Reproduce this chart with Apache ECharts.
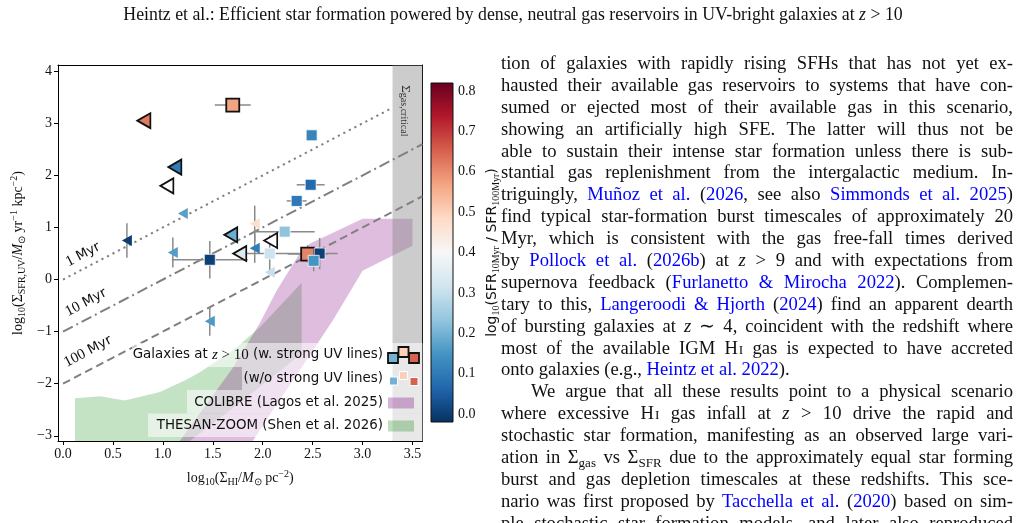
<!DOCTYPE html>
<html>
<head>
<meta charset="utf-8">
<script src="https://cdn.jsdelivr.net/npm/echarts@6/dist/echarts.min.js"></script>
<style>
html,body{margin:0;padding:0;background:#fff;}
body{width:1018px;height:523px;overflow:hidden;position:relative;font-family:"Liberation Serif",serif;color:#111;}
#chart{position:absolute;left:0;top:0;width:1018px;height:523px;}
#head{position:absolute;left:0;top:4px;width:1026px;text-align:center;font-size:17.8px;line-height:20px;white-space:nowrap;}
#txt{position:absolute;left:501px;top:52px;width:512px;font-size:18.6px;line-height:21.9px;}
#txt div{height:21.9px;white-space:nowrap;}
#txt div.ind{padding-left:30px;}
.l{color:#0000ff;}
sub{font-size:0.7em;line-height:0;vertical-align:-0.3em;}
.sc{font-size:0.72em;margin-left:1px;}
</style>
</head>
<body>
<div id="chart"></div>
<div id="head">Heintz et al.: Efficient star formation powered by dense, neutral gas reservoirs in UV-bright galaxies at <i>z</i> &gt; 10</div>
<div id="txt">
<div class="j">tion of galaxies with rapidly rising SFHs that has not yet ex-</div>
<div class="j">hausted their available gas reservoirs to systems that have con-</div>
<div class="j">sumed or ejected most of their available gas in this scenario,</div>
<div class="j">showing an artificially high SFE. The latter will thus not be</div>
<div class="j">able to sustain their intense star formation unless there is sub-</div>
<div class="j">stantial gas replenishment from the intergalactic medium. In-</div>
<div class="j">triguingly, <span class="l">Muñoz et al.</span> (<span class="l">2026</span>, see also <span class="l">Simmonds et al. 2025</span>)</div>
<div class="j">find typical star-formation burst timescales of approximately 20</div>
<div class="j">Myr, which is consistent with the gas free-fall times derived</div>
<div class="j">by <span class="l">Pollock et al.</span> (<span class="l">2026b</span>) at <i>z</i> &gt; 9 and with expectations from</div>
<div class="j">supernova feedback (<span class="l">Furlanetto &amp; Mirocha 2022</span>). Complemen-</div>
<div class="j">tary to this, <span class="l">Langeroodi &amp; Hjorth</span> (<span class="l">2024</span>) find an apparent dearth</div>
<div class="j">of bursting galaxies at <i>z</i> ∼ 4, coincident with the redshift where</div>
<div class="j">most of the available IGM H<span class="sc">I</span> gas is expected to have accreted</div>
<div>onto galaxies (e.g., <span class="l">Heintz et al. 2022</span>).</div>
<div class="j ind">We argue that all these results point to a physical scenario</div>
<div class="j">where excessive H<span class="sc">I</span> gas infall at <i>z</i> &gt; 10 drive the rapid and</div>
<div class="j">stochastic star formation, manifesting as an observed large vari-</div>
<div class="j">ation in Σ<sub>gas</sub> vs Σ<sub>SFR</sub> due to the approximately equal star forming</div>
<div class="j">burst and gas depletion timescales at these redshifts. This sce-</div>
<div class="j">nario was first proposed by <span class="l">Tacchella et al.</span> (<span class="l">2020</span>) based on sim-</div>
<div class="j">ple stochastic star formation models, and later also reproduced</div>
</div>
<script>
// justify each printed line to the column width
document.querySelectorAll('#txt div.j').forEach(function (d) {
    var r = document.createRange();
    r.selectNodeContents(d);
    var w = r.getBoundingClientRect().width;
    var avail = d.clientWidth - (d.classList.contains('ind') ? 30 : 0);
    var n = (d.textContent.match(/ /g) || []).length;
    if (n) d.style.wordSpacing = ((avail - w) / n) + 'px';
});

// axis ticks
var xTicks = [0, 0.5, 1, 1.5, 2, 2.5, 3, 3.5];
var yTicks = [-3, -2, -1, 0, 1, 2, 3, 4];
var cbTicks = [0, 0.1, 0.2, 0.3, 0.4, 0.5, 0.6, 0.7, 0.8];
var cbRange = [-0.02, 0.82];

// galaxies with strong UV lines (big squares, black edge)
var strongX = [1.70, 2.45];
var strongY = [3.35, 0.49];
var strongC = [0.57, 0.61];
var strongXerr = [0.18, 0.20];
var strongYerr = [0.03, 0.17];

// galaxies w/o strong UV lines (small squares)
var weakX = [2.49, 2.48, 2.34, 2.22, 2.07, 1.47, 2.57, 2.51];
var weakY = [2.77, 1.82, 1.51, 0.92, 0.50, 0.38, 0.50, 0.36];
var weakC = [0.12, 0.07, 0.10, 0.23, 0.31, 0.005, 0.005, 0.15];
var weakXerr = [0.05, 0.14, 0.10, 0.30, 0.30, 0.38, 0.18, 0.05];
var weakYerr = [0.05, 0.03, 0.03, 0.0, 0.35, 0.36, 0.30, 0.20];

// upper limits, big triangles with colour
var bigTriX = [0.81, 1.12, 1.68, 1.77];
var bigTriY = [3.05, 2.16, 0.86, 0.50];
var bigTriC = [0.62, 0.106, 0.19, 0.34];
var bigTriYerr = [0.07, 0, 0, 0];

// upper limits, open triangles (no SFR ratio)
var openTriX = [1.04, 2.08];
var openTriY = [1.80, 0.75];

// upper limits, small triangles
var smallTriX = [1.20, 0.64, 1.10, 1.92, 1.92, 2.07, 1.47];
var smallTriY = [1.27, 0.75, 0.52, 1.07, 0.60, 0.14, -0.80];
var smallTriC = [0.17, 0.0, 0.165, 0.47, 0.106, 0.30, 0.16];
var smallTriYerr = [0, 0.33, 0.29, 0.35, 0.28, 0, 0.28];

// depletion time lines
var myr1Line = [[0, 0], [3.28, 3.28]];
var myr10Line = [[0, -1], [3.6, 2.6]];
var myr100Line = [[0, -2], [3.6, 1.6]];
var lineLabels = ['1', '10', '100'];
var lineLabelX = [0.20, 0.23, 0.25];
var lineLabelY = [0.48, -0.44, -1.38];

// simulations
var colibrePoly = [[1.17, -3.10], [1.70, -1.70], [1.97, -0.84], [2.14, -0.21], [2.37, 0.50], [2.47, 0.69], [3.00, 1.17], [3.50, 1.17], [3.50, 0.65], [3.00, 0.17], [2.70, -0.79], [2.37, -1.74], [2.10, -2.51], [1.90, -3.10]];
var thesanPoly = [[0.12, -2.28], [0.37, -2.24], [0.62, -2.32], [0.97, -2.16], [1.24, -1.92], [1.37, -1.78], [1.70, -1.36], [1.97, -0.92], [2.39, -0.06], [2.39, -1.42], [1.80, -2.32], [1.27, -3.10], [0.12, -3.10]];
var criticalBand = [3.3, 3.6];

var rdbuR = ['#053061', '#2166ac', '#4393c3', '#92c5de', '#d1e5f0', '#f7f7f7', '#fddbc7', '#f4a582', '#d6604d', '#b2182b', '#67001f'];

function hex2rgb(h) {
    return [parseInt(h.substr(1, 2), 16), parseInt(h.substr(3, 2), 16), parseInt(h.substr(5, 2), 16)];
}
function cmap(v) {
    var t = (v - cbRange[0]) / (cbRange[1] - cbRange[0]);
    t = Math.max(0, Math.min(1, t)) * 10;
    var i = Math.min(9, Math.floor(t)), f = t - i;
    var a = hex2rgb(rdbuR[i]), b = hex2rgb(rdbuR[i + 1]);
    var c = a.map(function (x, k) { return Math.round(x + (b[k] - x) * f); });
    return 'rgb(' + c.join(',') + ')';
}

function errRows(xs, ys, xe, ye) {
    return xs.map(function (x, i) {
        var ex = xe ? xe[i] : 0, ey = ye ? ye[i] : 0;
        ex = Array.isArray(ex) ? ex : [ex, ex];
        ey = Array.isArray(ey) ? ey : [ey, ey];
        return [x, ys[i], ex[0], ex[1], ey[0], ey[1]];
    });
}
var errData = [].concat(
    errRows(strongX, strongY, strongXerr, strongYerr),
    errRows(weakX, weakY, weakXerr, weakYerr),
    errRows(bigTriX, bigTriY, null, bigTriYerr),
    errRows(smallTriX, smallTriY, null, smallTriYerr)
);

function zip3(a, b, c) {
    return a.map(function (x, i) { return [x, b[i], c ? c[i] : null]; });
}

var serifFont = '"Liberation Serif", serif';
var sansFont = '"DejaVu Sans", sans-serif';
var subStyle = { fontFamily: serifFont, fontSize: 10, lineHeight: 10, verticalAlign: 'bottom', color: '#111' };
var supStyle = { fontFamily: serifFont, fontSize: 10, lineHeight: 10, verticalAlign: 'top', color: '#111' };
var itStyle = { fontFamily: serifFont, fontStyle: 'italic', fontSize: 14, color: '#111' };

var chart = echarts.init(document.getElementById('chart'));

var polySeries = function (pts, color, z) {
    return {
        type: 'custom', xAxisIndex: 0, yAxisIndex: 0, z: z, silent: true, clip: true,
        data: [0],
        renderItem: function (params, api) {
            return {
                type: 'polygon',
                shape: { points: pts.map(function (p) { return api.coord(p); }) },
                style: { fill: color }
            };
        }
    };
};

var lineSeries = function (d, dash) {
    return {
        type: 'line', xAxisIndex: 0, yAxisIndex: 0, z: 4, silent: true,
        data: d, symbol: 'none',
        lineStyle: { color: '#808080', width: 2, type: dash }
    };
};

// legend, pixel layout
var legendRows = [355, 379, 402.5, 426];
var legendText = '#111';
var graphicEls = [
    { type: 'rect', z: 20, shape: { x: 132, y: 343, width: 290.5, height: 24 }, style: { fill: 'rgba(255,255,255,0.55)' } },
    { type: 'rect', z: 20, shape: { x: 242, y: 367, width: 180.5, height: 23 }, style: { fill: 'rgba(255,255,255,0.55)' } },
    { type: 'rect', z: 20, shape: { x: 187, y: 390, width: 235.5, height: 23.5 }, style: { fill: 'rgba(255,255,255,0.55)' } },
    { type: 'rect', z: 20, shape: { x: 148, y: 413.5, width: 274.5, height: 23.5 }, style: { fill: 'rgba(255,255,255,0.55)' } },
    { type: 'rect', z: 20, shape: { x: 385, y: 437, width: 37.5, height: 4 }, style: { fill: 'rgba(255,255,255,0.55)' } },
    { type: 'text', z: 21, x: 383, y: legendRows[0], style: {
        text: 'Galaxies at {mi|z}{mn| > 10} (w. strong UV lines)', align: 'right', verticalAlign: 'middle',
        fontFamily: sansFont, fontSize: 13.4, fill: legendText,
        rich: { mi: { fontFamily: serifFont, fontStyle: 'italic', fontSize: 15, fill: legendText }, mn: { fontFamily: serifFont, fontSize: 15, fill: legendText } } } },
    { type: 'text', z: 21, x: 383, y: legendRows[1], style: { text: '(w/o strong UV lines)', align: 'right', verticalAlign: 'middle', fontFamily: sansFont, fontSize: 13.4, fill: legendText } },
    { type: 'text', z: 21, x: 383, y: legendRows[2], style: { text: 'COLIBRE (Lagos et al. 2025)', align: 'right', verticalAlign: 'middle', fontFamily: sansFont, fontSize: 13.4, fill: legendText } },
    { type: 'text', z: 21, x: 383, y: legendRows[3], style: { text: 'THESAN-ZOOM (Shen et al. 2026)', align: 'right', verticalAlign: 'middle', fontFamily: sansFont, fontSize: 13.4, fill: legendText } },
    { type: 'rect', z: 22, shape: { x: 388, y: 353, width: 10, height: 10 }, style: { fill: cmap(0.2), stroke: '#111', lineWidth: 1.8 } },
    { type: 'rect', z: 22, shape: { x: 409, y: 353, width: 10, height: 10 }, style: { fill: cmap(0.65), stroke: '#111', lineWidth: 1.8 } },
    { type: 'rect', z: 23, shape: { x: 398.5, y: 347, width: 10, height: 10 }, style: { fill: cmap(0.5), stroke: '#111', lineWidth: 1.8 } },
    { type: 'rect', z: 22, shape: { x: 389.5, y: 377, width: 8, height: 8 }, style: { fill: cmap(0.2), stroke: '#fff', lineWidth: 1 } },
    { type: 'rect', z: 22, shape: { x: 410, y: 377.5, width: 8, height: 8 }, style: { fill: cmap(0.65), stroke: '#fff', lineWidth: 1 } },
    { type: 'rect', z: 23, shape: { x: 399.5, y: 371.5, width: 8, height: 8 }, style: { fill: cmap(0.5), stroke: '#fff', lineWidth: 1 } },
    { type: 'rect', z: 22, shape: { x: 388, y: 397.5, width: 26, height: 11 }, style: { fill: 'rgba(128,0,128,0.3)' } },
    { type: 'rect', z: 22, shape: { x: 388, y: 420.5, width: 26, height: 11 }, style: { fill: 'rgba(0,128,0,0.26)' } }
];

var option = {
    animation: false,
    backgroundColor: 'transparent',
    grid: [
        { left: 58, top: 65, width: 364.5, height: 376, containLabel: false, outerBoundsMode: 'none' },
        { left: 431, top: 83, width: 22, height: 339, containLabel: false, outerBoundsMode: 'none' }
    ],
    xAxis: [
        {
            type: 'value', gridIndex: 0, min: -0.05, max: 3.6,
            axisLine: { show: true, onZero: false, lineStyle: { color: '#000', width: 1 } },
            axisTick: { show: true, customValues: xTicks, length: 4, lineStyle: { color: '#000' } },
            axisLabel: { customValues: xTicks, formatter: function (v) { return v.toFixed(1); }, fontFamily: serifFont, fontSize: 14, color: '#111', margin: 6 },
            splitLine: { show: false },
            name: 'log{s|10}(Σ{s|HI}/{i|M}{s|⊙} pc{p|−2})',
            nameLocation: 'middle', nameGap: 28,
            nameTextStyle: { fontFamily: serifFont, fontSize: 14, color: '#111', lineHeight: 18, rich: { s: subStyle, p: supStyle, i: itStyle } }
        },
        {
            type: 'value', gridIndex: 0, min: -0.05, max: 3.6, position: 'top',
            axisLine: { show: true, onZero: false, lineStyle: { color: '#000', width: 1 } },
            axisTick: { show: false }, axisLabel: { show: false }, splitLine: { show: false }
        },
        { type: 'value', gridIndex: 1, min: 0, max: 1, show: false }
    ],
    yAxis: [
        {
            type: 'value', gridIndex: 0, min: -3.1, max: 4.12,
            axisLine: { show: true, onZero: false, lineStyle: { color: '#000', width: 1 } },
            axisTick: { show: true, customValues: yTicks, length: 4, lineStyle: { color: '#000' } },
            axisLabel: { customValues: yTicks, formatter: function (v) { return v < 0 ? '\u2212' + Math.abs(v) : String(v); }, fontFamily: serifFont, fontSize: 14, color: '#111', margin: 6 },
            splitLine: { show: false },
            name: 'log{s|10}(Σ{s|SFR,UV}/{i|M}{s|⊙} yr{p|−1} kpc{p|−2})',
            nameLocation: 'middle', nameRotate: 90, nameGap: 31,
            nameTextStyle: { fontFamily: serifFont, fontSize: 14, color: '#111', lineHeight: 18, rich: { s: subStyle, p: supStyle, i: itStyle } }
        },
        {
            type: 'value', gridIndex: 0, min: -3.1, max: 4.12, position: 'right',
            axisLine: { show: true, onZero: false, lineStyle: { color: '#000', width: 1 } },
            axisTick: { show: false }, axisLabel: { show: false }, splitLine: { show: false }
        },
        {
            type: 'value', gridIndex: 1, min: cbRange[0], max: cbRange[1], position: 'right',
            axisLine: { show: false },
            axisTick: { show: true, customValues: cbTicks, length: 4, lineStyle: { color: '#000' } },
            axisLabel: { customValues: cbTicks, formatter: function (v) { return v.toFixed(1); }, fontFamily: serifFont, fontSize: 14, color: '#111', margin: 5 },
            splitLine: { show: false },
            name: 'log{s|10}(SFR{s|10Myr} / SFR{s|100Myr})',
            nameLocation: 'middle', nameRotate: 90, nameGap: 30,
            nameTextStyle: {
                fontFamily: sansFont, fontSize: 14, color: '#111', lineHeight: 18,
                rich: { s: { fontFamily: serifFont, fontSize: 10, lineHeight: 10, verticalAlign: 'bottom', color: '#111' } }
            }
        }
    ],
    graphic: graphicEls,
    series: [
        polySeries(thesanPoly, 'rgba(0,128,0,0.23)', 1),
        polySeries(colibrePoly, 'rgba(128,0,128,0.26)', 2),
        {
            type: 'custom', xAxisIndex: 0, yAxisIndex: 0, z: 3, silent: true, clip: true,
            data: [criticalBand],
            renderItem: function (params, api) {
                var a = api.coord([api.value(0), -3.1]), b = api.coord([api.value(1), 4.12]);
                return {
                    type: 'group', children: [
                        { type: 'rect', shape: { x: a[0], y: b[1], width: b[0] - a[0], height: a[1] - b[1] }, style: { fill: 'rgba(128,128,128,0.4)' } },
                        { type: 'text', x: a[0] + 13, y: api.coord([0, 3.24])[1], rotation: -Math.PI / 2,
                          style: { text: 'Σ{s|gas,critical}', align: 'center', verticalAlign: 'middle', fontFamily: serifFont, fontSize: 13, fill: '#333',
                                   rich: { s: { fontFamily: serifFont, fontSize: 10, lineHeight: 10, verticalAlign: 'bottom', fill: '#333' } } } }
                    ]
                };
            }
        },
        lineSeries(myr1Line, [2.2, 4]),
        lineSeries(myr10Line, [11, 4, 2, 4]),
        lineSeries(myr100Line, [8, 4.5]),
        {
            type: 'custom', xAxisIndex: 0, yAxisIndex: 0, z: 5, silent: true,
            data: lineLabels.map(function (t, i) { return [lineLabelX[i], lineLabelY[i], i]; }),
            renderItem: function (params, api) {
                var p = api.coord([api.value(0), api.value(1)]);
                return {
                    type: 'text', x: p[0], y: p[1], rotation: 27.5 * Math.PI / 180,
                    style: {
                        text: '{n|' + lineLabels[params.dataIndex] + '} Myr', align: 'center', verticalAlign: 'middle',
                        fontFamily: sansFont, fontSize: 13.5, fill: '#111',
                        rich: { n: { fontFamily: serifFont, fontSize: 15, fill: '#111' } }
                    }
                };
            }
        },
        {
            type: 'custom', xAxisIndex: 0, yAxisIndex: 0, z: 6, silent: true,
            data: errData,
            renderItem: function (params, api) {
                var x = api.value(0), y = api.value(1);
                var kids = [];
                var st = { stroke: '#8a8a8a', lineWidth: 1.5 };
                if (api.value(2) || api.value(3)) {
                    var a = api.coord([x - api.value(2), y]), b = api.coord([x + api.value(3), y]);
                    kids.push({ type: 'line', shape: { x1: a[0], y1: a[1], x2: b[0], y2: b[1] }, style: st });
                }
                if (api.value(4) || api.value(5)) {
                    var c = api.coord([x, y - api.value(4)]), d = api.coord([x, y + api.value(5)]);
                    kids.push({ type: 'line', shape: { x1: c[0], y1: c[1], x2: d[0], y2: d[1] }, style: st });
                }
                return { type: 'group', children: kids };
            }
        },
        {
            type: 'scatter', xAxisIndex: 0, yAxisIndex: 0, z: 7, silent: true,
            data: zip3(smallTriX, smallTriY, smallTriC),
            symbol: 'triangle', symbolRotate: 90, symbolSize: [11, 10],
            itemStyle: { color: function (p) { return cmap(p.value[2]); }, opacity: 1 }
        },
        {
            type: 'scatter', xAxisIndex: 0, yAxisIndex: 0, z: 8, silent: true,
            data: zip3(openTriX, openTriY),
            symbol: 'triangle', symbolRotate: 90, symbolSize: [15, 13],
            itemStyle: { color: '#fff', borderColor: '#111', borderWidth: 1.8, opacity: 1 }
        },
        {
            type: 'scatter', xAxisIndex: 0, yAxisIndex: 0, z: 8, silent: true,
            data: zip3(bigTriX, bigTriY, bigTriC),
            symbol: 'triangle', symbolRotate: 90, symbolSize: [15, 13],
            itemStyle: { color: function (p) { return cmap(p.value[2]); }, borderColor: '#111', borderWidth: 1.8, opacity: 1 }
        },
        {
            type: 'scatter', xAxisIndex: 0, yAxisIndex: 0, z: 9, silent: true,
            data: zip3(strongX, strongY, strongC),
            symbol: 'rect', symbolSize: 13,
            itemStyle: { color: function (p) { return cmap(p.value[2]); }, borderColor: '#111', borderWidth: 1.8, opacity: 1 }
        },
        {
            type: 'scatter', xAxisIndex: 0, yAxisIndex: 0, z: 10, silent: true,
            data: zip3(weakX, weakY, weakC),
            symbol: 'rect', symbolSize: 11,
            itemStyle: { color: function (p) { return cmap(p.value[2]); }, borderColor: '#fff', borderWidth: 0.8, opacity: 1 }
        },
        {
            type: 'custom', xAxisIndex: 2, yAxisIndex: 2, z: 5, silent: true,
            data: [[0, cbRange[0], 1, cbRange[1]]],
            renderItem: function (params, api) {
                var a = api.coord([api.value(0), api.value(1)]), b = api.coord([api.value(2), api.value(3)]);
                return {
                    type: 'rect',
                    shape: { x: a[0], y: b[1], width: b[0] - a[0], height: a[1] - b[1] },
                    style: {
                        fill: new echarts.graphic.LinearGradient(0, 1, 0, 0, rdbuR.map(function (c, i) { return { offset: i / 10, color: c }; })),
                        stroke: '#111', lineWidth: 1
                    }
                };
            }
        }
    ]
};
chart.setOption(option);
</script>
</body>
</html>
